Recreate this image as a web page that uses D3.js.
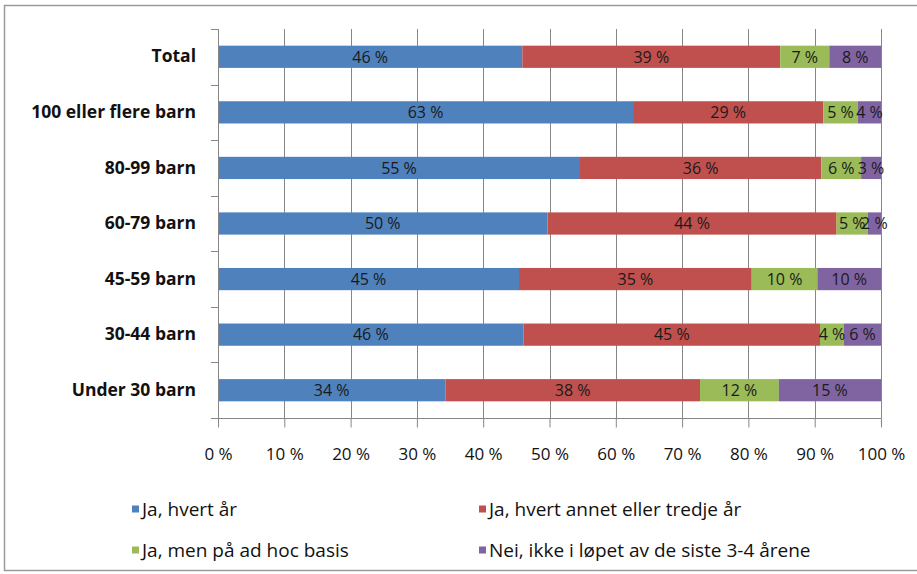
<!DOCTYPE html>
<html>
<head>
<meta charset="utf-8">
<script src="https://cdn.jsdelivr.net/npm/d3@7"></script>
<style>
  html, body { margin: 0; padding: 0; background: #fff; }
  svg { display: block; }
  text { font-family: "Open Sans", "DejaVu Sans", sans-serif; }
</style>
</head>
<body>
<svg id="chart" width="917" height="574"></svg>
<script>
// ---- data ----
const categories = ["Total", "100 eller flere barn", "80-99 barn", "60-79 barn", "45-59 barn", "30-44 barn", "Under 30 barn"];
const seriesNames = ["Ja, hvert år", "Ja, hvert annet eller tredje år", "Ja, men på ad hoc basis", "Nei, ikke i løpet av de siste 3-4 årene"];
const hvertAar        = [45.9, 62.6, 54.6, 49.7, 45.4, 46.1, 34.3];
const hvertAnnet      = [38.9, 28.7, 36.4, 43.6, 35.1, 44.7, 38.4];
const adHoc           = [7.4, 5.2, 6.0, 4.7, 9.9, 3.6, 11.9];
const nei             = [7.8, 3.5, 3.0, 2.0, 9.6, 5.6, 15.4];
const valueLabels = [
  ["46 %", "39 %", "7 %", "8 %"],
  ["63 %", "29 %", "5 %", "4 %"],
  ["55 %", "36 %", "6 %", "3 %"],
  ["50 %", "44 %", "5 %", "2 %"],
  ["45 %", "35 %", "10 %", "10 %"],
  ["46 %", "45 %", "4 %", "6 %"],
  ["34 %", "38 %", "12 %", "15 %"]
];
const tickValues = [0, 10, 20, 30, 40, 50, 60, 70, 80, 90, 100];
const colors = ["#4F81BD", "#C0504D", "#9BBB59", "#8064A2"];

// ---- layout ----
const svg = d3.select("#chart");
const pLeft = 218, pRight = 881, pTop = 29, pBottom = 418;
const axisColor = "#868686";

// outer frame
svg.append("rect").attr("x", 4.5).attr("y", 5.5).attr("width", 920).attr("height", 565)
  .attr("fill", "none").attr("stroke", "#9a9a9a").attr("stroke-width", 1.5);

const x = d3.scaleLinear().domain([0, 100]).range([pLeft, pRight]);
const y = d3.scaleBand().domain(categories).range([pTop, pBottom]).paddingInner(0.6).paddingOuter(0.3);

// gridlines
svg.append("g").selectAll("line").data(tickValues.slice(1)).join("line")
  .attr("x1", d => Math.round(x(d)) + 0.5).attr("x2", d => Math.round(x(d)) + 0.5)
  .attr("y1", pTop).attr("y2", pBottom)
  .attr("stroke", axisColor).attr("stroke-width", 1);

// stacked data
const stackData = categories.map((c, i) => ({cat: c, s0: hvertAar[i], s1: hvertAnnet[i], s2: adHoc[i], s3: nei[i]}));
const series = d3.stack().keys(["s0", "s1", "s2", "s3"])(stackData);

const gBars = svg.append("g");
series.forEach((s, si) => {
  gBars.append("g").selectAll("rect").data(s).join("rect")
    .attr("x", d => x(d[0]))
    .attr("width", d => x(d[1]) - x(d[0]))
    .attr("y", d => y(d.data.cat))
    .attr("height", y.bandwidth())
    .attr("fill", colors[si]);
});

// value labels
series.forEach((s, si) => {
  gBars.append("g").selectAll("text").data(s).join("text")
    .attr("x", d => (x(d[0]) + x(d[1])) / 2)
    .attr("y", d => y(d.data.cat) + y.bandwidth() / 2)
    .attr("dy", "0.36em")
    .attr("text-anchor", "middle")
    .attr("font-size", 16)
    .attr("fill", "#1a1a1a")
    .text((d, i) => valueLabels[i][si]);
});

// y axis
const yAxis = svg.append("g").attr("transform", `translate(${pLeft},0)`)
  .call(d3.axisLeft(y).tickSize(0).tickPadding(22));
yAxis.select(".domain").remove();
yAxis.selectAll("text").attr("font-size", 17.5).attr("font-weight", "bold").attr("fill", "#111")
  .attr("font-family", "'Open Sans', sans-serif");
svg.append("line").attr("x1", pLeft + 0.5).attr("x2", pLeft + 0.5).attr("y1", pTop).attr("y2", pBottom)
  .attr("stroke", axisColor);
const step = y.step();
svg.append("g").selectAll("line").data(d3.range(categories.length + 1)).join("line")
  .attr("x1", pLeft - 7).attr("x2", pLeft)
  .attr("y1", i => Math.round(pTop + i * step) + 0.5).attr("y2", i => Math.round(pTop + i * step) + 0.5)
  .attr("stroke", axisColor);

// x axis
const xAxis = svg.append("g").attr("transform", `translate(0,${pBottom + 0.5})`)
  .call(d3.axisBottom(x).tickValues(tickValues).tickSize(9).tickFormat(d => d + " %"));
xAxis.select(".domain").attr("d", `M${pLeft - 7},0H${pRight + 0.5}`).attr("stroke", axisColor);
xAxis.selectAll(".tick line").attr("stroke", axisColor);
xAxis.selectAll("text").attr("y", 29).attr("dy", "0.71em").attr("font-size", 17).attr("fill", "#111")
  .attr("font-family", "'Open Sans', sans-serif");

// legend
const legendPos = [[132, 509], [479, 509], [132, 550], [479, 550]];
const lg = svg.append("g").selectAll("g").data(seriesNames).join("g")
  .attr("transform", (d, i) => `translate(${legendPos[i][0]},${legendPos[i][1]})`);
lg.append("rect").attr("x", 0).attr("y", -3.5).attr("width", 7).attr("height", 7)
  .attr("fill", (d, i) => colors[i]);
lg.append("text").attr("x", 10).attr("y", 0).attr("dy", "0.36em")
  .attr("font-size", 19).attr("fill", "#111").text(d => d);
</script>
</body>
</html>
